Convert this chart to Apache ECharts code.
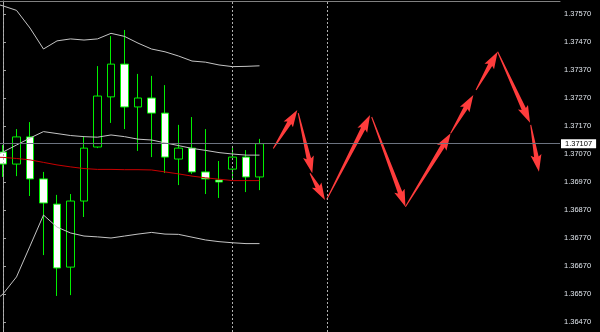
<!DOCTYPE html>
<html><head><meta charset="utf-8">
<script src="https://cdn.jsdelivr.net/npm/echarts@6/dist/echarts.min.js"></script>
<style>html,body{margin:0;padding:0;background:#000}#c{width:600px;height:332px}</style>
</head><body><div id="c"></div>
<script>
// candle values (bar index 0..19)
const barOpen  = [1.37077,1.37034,1.37131,1.36981,1.36891,1.36666,1.36902,1.37095,1.37274,1.37391,1.37238,1.37270,1.37216,1.37052,1.37091,1.37006,1.36977,1.37016,1.37059,1.36988];
const barClose = [1.37034,1.37131,1.36981,1.36895,1.36663,1.36902,1.37091,1.37277,1.37391,1.37238,1.37270,1.37216,1.37059,1.37091,1.37006,1.36981,1.36970,1.37059,1.36988,1.37107];
const barLow   = [1.36988,1.36991,1.36920,1.36709,1.36563,1.36566,1.36845,1.37091,1.37181,1.37159,1.37081,1.37059,1.37002,1.36959,1.36999,1.36927,1.36913,1.36984,1.36934,1.36941];
const barHigh  = [1.37102,1.37159,1.37184,1.37006,1.36924,1.36927,1.37131,1.37384,1.37491,1.37513,1.37356,1.37349,1.37316,1.37174,1.37202,1.37159,1.37045,1.37099,1.37084,1.37124];
// indicator values (bar index -1..19)
const upperBand = [1.37613,1.37599,1.37583,1.37520,1.37445,1.37474,1.37481,1.37477,1.37481,1.37501,1.37490,1.37466,1.37445,1.37435,1.37420,1.37402,1.37398,1.37388,1.37382,1.37383,1.37385];
const midBand   = [1.37052,1.37077,1.37102,1.37127,1.37150,1.37143,1.37136,1.37132,1.37130,1.37138,1.37132,1.37123,1.37120,1.37110,1.37100,1.37090,1.37083,1.37075,1.37070,1.37066,1.37066];
const lowerBand = [1.36531,1.36570,1.36631,1.36741,1.36852,1.36809,1.36788,1.36777,1.36774,1.36770,1.36777,1.36784,1.36790,1.36784,1.36783,1.36773,1.36763,1.36757,1.36753,1.36750,1.36750];
const maLine    = [1.37059,1.37058,1.37054,1.37049,1.37040,1.37031,1.37024,1.37018,1.37015,1.37015,1.37014,1.37014,1.37013,1.37006,1.36999,1.36991,1.36985,1.36980,1.36975,1.36975,1.36975];
// period separators (bar index)
const separators = [0, 17, 24];
// projected arrows: [fromIndex, fromPrice, toIndex, toPrice]
const arrows = [
  [20.02,1.37090,21.80,1.37227],
  [21.87,1.37216,22.91,1.37001],
  [22.74,1.37001,23.85,1.36906],
  [23.98,1.36908,27.19,1.37209],
  [27.31,1.37202,29.81,1.36882],
  [29.81,1.36882,33.16,1.37144],
  [33.16,1.37144,34.84,1.37281],
  [35.04,1.37299,36.64,1.37435],
  [36.64,1.37435,39.04,1.37182],
  [39.09,1.37174,39.70,1.37007]
];
const priceTicks = [1.36470,1.36570,1.36670,1.36770,1.36870,1.36970,1.37070,1.37170,1.37270,1.37370,1.37470,1.37570];
const lastPrice = barClose[barClose.length - 1];

const candleData = barOpen.map((o, i) => [i, o, barClose[i], barLow[i], barHigh[i]]);
const toLine = arr => arr.map((v, k) => [k - 1, v]);

const chart = echarts.init(document.getElementById('c'), null, {renderer: 'canvas'});
const GREEN = '#00f000';
const BAND = '#c4c4c4';

function renderArrow(params, api) {
  const p1 = api.coord([api.value(0), api.value(1)]);
  const p2 = api.coord([api.value(2), api.value(3)]);
  const dx = p2[0] - p1[0], dy = p2[1] - p1[1];
  const len = Math.sqrt(dx * dx + dy * dy);
  const ux = dx / len, uy = dy / len, nx = -uy, ny = ux;
  const headLen = Math.min(15, len * 0.5);
  const headW = 5.5, shaftW = 2.3, tailW = 0.5;
  const bx = p2[0] - ux * headLen, by = p2[1] - uy * headLen;
  const back = 2;
  const pts = [
    [p1[0] + nx * tailW, p1[1] + ny * tailW],
    [bx + nx * shaftW, by + ny * shaftW],
    [bx - ux * back + nx * headW, by - uy * back + ny * headW],
    [p2[0], p2[1]],
    [bx - ux * back - nx * headW, by - uy * back - ny * headW],
    [bx - nx * shaftW, by - ny * shaftW],
    [p1[0] - nx * tailW, p1[1] - ny * tailW]
  ];
  return {type: 'polygon', shape: {points: pts}, style: {fill: '#ff3c3c'}};
}

const markData = separators.map(s => ({xAxis: s, label: {show: false}, lineStyle: {type: [2, 2], color: '#b0b0b0', width: 1}}));
markData.push({
  yAxis: lastPrice,
  lineStyle: {type: 'solid', color: '#6c7380', width: 1},
  label: {
    show: true, position: 'end', distance: 1,
    formatter: p => Number(p.value).toFixed(5),
    backgroundColor: '#ffffff', color: '#000000',
    fontSize: 7.5, fontFamily: 'Liberation Sans',
    padding: [1, 4, 0, 4]
  }
});

chart.setOption({
  backgroundColor: '#000000',
  animation: false,
  grid: {left: 0, right: 40, top: 1, bottom: 0},
  xAxis: {
    type: 'value', min: -0.2222, max: 41.259, position: 'top',
    axisLine: {show: true, onZero: false, lineStyle: {color: '#808080', width: 1}},
    axisTick: {show: false}, axisLabel: {show: false}, splitLine: {show: false}
  },
  yAxis: {
    type: 'value', position: 'right', min: 1.3643429, max: 1.3761643, scale: true,
    axisLine: {show: true, lineStyle: {color: '#a0a0a0', width: 1}},
    axisTick: {show: true, length: 3, customValues: priceTicks, lineStyle: {color: '#a0a0a0'}},
    axisLabel: {
      customValues: priceTicks, formatter: v => Number(v).toFixed(5),
      color: '#dfe5ec', fontSize: 7.5, fontFamily: 'Liberation Sans', margin: 4
    },
    splitLine: {show: false}
  },
  series: [
    {
      type: 'line', data: [], z: 1, silent: true, clip: false,
      markLine: {silent: true, precision: 5, symbol: ['none', 'none'], animation: false, data: markData}
    },
    {
      type: 'candlestick', data: candleData, barWidth: 8, z: 2, silent: true,
      itemStyle: {color: '#000000', color0: '#ffffff', borderColor: GREEN, borderColor0: GREEN, borderWidth: 1}
    },
    {type: 'line', data: toLine(upperBand), showSymbol: false, silent: true, z: 3, lineStyle: {color: BAND, width: 1}},
    {type: 'line', data: toLine(midBand), showSymbol: false, silent: true, z: 3, lineStyle: {color: BAND, width: 1}},
    {type: 'line', data: toLine(lowerBand), showSymbol: false, silent: true, z: 3, lineStyle: {color: BAND, width: 1}},
    {type: 'line', data: toLine(maLine), showSymbol: false, silent: true, z: 3, lineStyle: {color: '#c80000', width: 1}},
    {
      type: 'custom', data: arrows, renderItem: renderArrow, z: 4, silent: true,
      encode: {x: [0, 2], y: [1, 3]}
    }
  ]
});
</script>
</body></html>
